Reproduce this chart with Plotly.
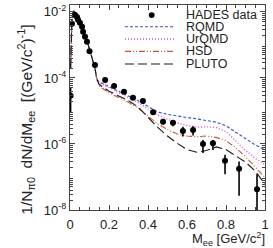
import plotly.graph_objects as go

# ---------------- data ----------------
data_x = [0.003, 0.010, 0.026, 0.036, 0.041, 0.051, 0.062, 0.067, 0.077, 0.087,
          0.100, 0.128, 0.180, 0.226, 0.277, 0.323, 0.374, 0.426, 0.477, 0.528,
          0.579, 0.631, 0.682, 0.733, 0.795, 0.867, 0.959]
data_log = [-4.54, -2.36, -2.09, -2.15, -2.24, -2.33, -2.45, -2.60, -2.75, -2.90,
            -3.19, -3.61, -4.06, -4.24, -4.42, -4.60, -4.70, -5.04, -5.33, -5.36,
            -5.61, -5.58, -6.00, -5.98, -6.51, -6.75, -7.37]
data_hi_log = [-4.29, -2.30, -2.05, -2.11, -2.19, -2.28, -2.41, -2.55, -2.70, -2.85,
               -3.14, -3.55, -4.00, -4.17, -4.36, -4.54, -4.63, -4.96, -5.24, -5.27,
               -5.48, -5.46, -5.88, -5.88, -6.33, -6.53, -6.92]
data_lo_log = [-5.04, -2.41, -2.13, -2.19, -2.28, -2.37, -2.49, -2.65, -2.80, -2.95,
               -3.24, -3.67, -4.12, -4.30, -4.48, -4.67, -4.77, -5.12, -5.41, -5.46,
               -5.77, -5.74, -6.27, -6.18, -6.92, -7.57, -9.00]

model_x = [0.003, 0.006, 0.010, 0.015, 0.020, 0.030, 0.040, 0.050, 0.060, 0.070,
           0.080, 0.090, 0.100, 0.110, 0.120, 0.128, 0.135, 0.140, 0.150, 0.200,
           0.250, 0.300, 0.350, 0.400, 0.450, 0.500, 0.550, 0.600, 0.650, 0.700,
           0.750, 0.800, 0.850, 0.900, 0.950, 1.000]
low_mass_log = [-3.70, -2.80, -2.20, -2.02, -1.98, -2.03, -2.12, -2.25, -2.40, -2.56,
                -2.74, -2.93, -3.13, -3.33, -3.55, -3.70, -3.95, -4.07]
rqmd_log = low_mass_log + [-4.12, -4.26, -4.40, -4.54, -4.69, -4.86, -5.03, -5.10, -5.16,
                           -5.20, -5.24, -5.28, -5.34, -5.45, -5.64, -5.85, -6.03, -6.18]
urqmd_log = low_mass_log + [-4.13, -4.30, -4.45, -4.59, -4.75, -4.94, -5.12, -5.25, -5.36,
                            -5.44, -5.49, -5.48, -5.50, -5.62, -5.90, -6.20, -6.43, -6.63]
hsd_log = low_mass_log + [-4.25, -4.45, -4.60, -4.74, -4.92, -5.15, -5.39, -5.56, -5.70,
                          -5.76, -5.78, -5.76, -5.80, -5.90, -6.12, -6.38, -6.70, -7.02]
pluto_log = low_mass_log + [-4.20, -4.40, -4.55, -4.69, -4.88, -5.20, -5.50, -5.76, -5.98,
                            -6.17, -6.25, -6.20, -6.09, -6.17, -6.35, -6.55, -6.82, -7.22]

series_names = ["RQMD", "UrQMD", "HSD", "PLUTO"]
data_name = "HADES data"
y_tick_exp = [-8, -6, -4, -2]
x_tick_vals = [0, 0.2, 0.4, 0.6, 0.8, 1]
x_tick_text = ["0", "0.2", "0.4", "0.6", "0.8", "1"]

# ---------------- styles ----------------
FONT = "Liberation Sans, Arial, Helvetica, sans-serif"
styles = {
    "RQMD": dict(color="#3a4fc8", dash="3px,2px", width=1.1),
    "UrQMD": dict(color="#d94fc8", dash="1px,2px", width=1.4),
    "HSD": dict(color="#c8552e", dash="6px,2px,1px,2px,1px,2px", width=1.1),
    "PLUTO": dict(color="#1a1a1a", dash="9px,4px", width=1.1),
}
model_logs = {"RQMD": rqmd_log, "UrQMD": urqmd_log, "HSD": hsd_log, "PLUTO": pluto_log}

fig = go.Figure()
for name in series_names:
    fig.add_trace(go.Scatter(
        x=model_x, y=[10 ** v for v in model_logs[name]], mode="lines",
        name=name, line=styles[name], showlegend=False))

dy = [10 ** v for v in data_log]
err_up = [10 ** h - y for h, y in zip(data_hi_log, dy)]
err_dn = [y - 10 ** l for l, y in zip(data_lo_log, dy)]
fig.add_trace(go.Scatter(
    x=data_x, y=dy, mode="markers", name=data_name, showlegend=False,
    marker=dict(color="black", size=6),
    error_y=dict(type="data", symmetric=False, array=err_up, arrayminus=err_dn,
                 color="black", thickness=1.6, width=0)))

# ---------------- axes ----------------
minor_y = [k * 10.0 ** d for d in range(-8, -1) for k in range(2, 10)]
axis_common = dict(showline=True, linecolor="#444", linewidth=1, mirror="allticks",
                   ticks="inside", ticklen=5, tickcolor="#444", showgrid=False,
                   zeroline=False, tickfont=dict(family=FONT, size=13, color="#222"))
fig.update_xaxes(range=[0, 1], tickvals=x_tick_vals, ticktext=x_tick_text,
                 ticklabelstandoff=2,
                 minor=dict(dtick=0.05, ticks="inside", ticklen=3, tickcolor="#444"),
                 **axis_common)
fig.update_yaxes(type="log", range=[-8, -1.79],
                 tickvals=[10.0 ** e for e in y_tick_exp],
                 ticktext=["10<sup>%d</sup>" % e for e in y_tick_exp],
                 minor=dict(tickvals=minor_y, ticks="inside", ticklen=3, tickcolor="#444"),
                 **axis_common)

# ---------------- titles ----------------
annotations = [
    dict(text="M<sub>ee</sub> [GeV/c<sup>2</sup>]", xref="paper", yref="paper",
         x=1.01, y=-0.088, xanchor="right", yanchor="top", showarrow=False,
         font=dict(family=FONT, size=13, color="#222")),
    dict(text="1/N<sub>π0</sub>  dN/dM<sub>ee</sub>  [(GeV/c<sup>2</sup>)<sup>-1</sup>]",
         xref="paper", yref="paper", x=-0.226, y=0.44, xanchor="center", yanchor="middle",
         textangle=-90, showarrow=False, font=dict(family=FONT, size=15.5, color="#222")),
]

# ---------------- legend (drawn manually, compact) ----------------
leg_rows_y = [0.951, 0.894, 0.834, 0.774, 0.712]
leg_x0, leg_x1, leg_tx = 0.282, 0.538, 0.585
shapes = []
shapes.append(dict(type="circle", xref="paper", yref="paper",
                   x0=0.419 - 0.015, x1=0.419 + 0.015,
                   y0=leg_rows_y[0] - 0.014, y1=leg_rows_y[0] + 0.014,
                   fillcolor="black", line=dict(width=0)))
annotations.append(dict(text=data_name, xref="paper", yref="paper", x=leg_tx,
                        y=leg_rows_y[0], xanchor="left", yanchor="middle", showarrow=False,
                        font=dict(family=FONT, size=12.5, color="#222")))
for name, yy in zip(series_names, leg_rows_y[1:]):
    st = styles[name]
    shapes.append(dict(type="line", xref="paper", yref="paper", x0=leg_x0, x1=leg_x1,
                       y0=yy, y1=yy, line=dict(color=st["color"], dash=st["dash"],
                                               width=st["width"])))
    annotations.append(dict(text=name, xref="paper", yref="paper", x=leg_tx, y=yy,
                            xanchor="left", yanchor="middle", showarrow=False,
                            font=dict(family=FONT, size=12.5, color="#222")))

fig.update_layout(width=273, height=248, margin=dict(l=70, r=8, t=3, b=38),
                  plot_bgcolor="white", paper_bgcolor="white", showlegend=False,
                  annotations=annotations, shapes=shapes,
                  font=dict(family=FONT, size=13, color="#222"))

fig.write_html("out.html", config={"displayModeBar": False},
               post_script="document.body.style.margin='0';document.body.style.overflow='hidden';")
